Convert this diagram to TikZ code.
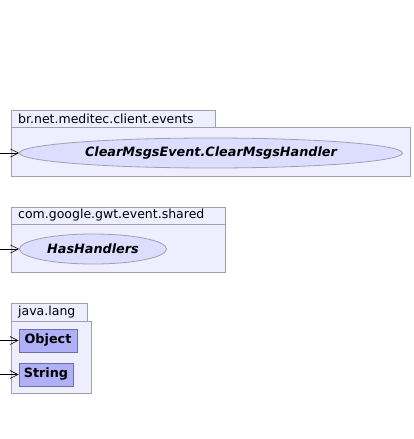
\documentclass[tikz,border=0pt]{standalone}
\usepackage{fontspec}
\setmainfont{DejaVu Sans}
\usetikzlibrary{shapes.geometric,arrows.meta}
\definecolor{pkgfill}{HTML}{EEEEFF}
\definecolor{pkgline}{HTML}{A0A0B0}
\definecolor{ellfill}{HTML}{DDDDFF}
\definecolor{boxfill}{HTML}{B0B0F8}
\definecolor{boxline}{HTML}{7070A0}
\tikzset{
  pkg/.style={draw=pkgline, fill=pkgfill, line width=0.8pt},
  pkglabel/.style={anchor=west, font=\fontsize{12.5}{14}\selectfont, inner sep=0pt},
  iface/.style={ellipse, draw=pkgline, fill=ellfill, line width=0.8pt, inner sep=0pt, font=\fontsize{12.8}{14}\selectfont\bfseries\itshape},
  cls/.style={rectangle, draw=boxline, fill=boxfill, line width=0.8pt, inner sep=0pt, font=\fontsize{12.8}{14}\selectfont\bfseries},
  dep/.style={-{Straight Barb[length=8pt,width=8pt]}, line width=0.6pt}
}
\begin{document}
\begin{tikzpicture}[x=1pt,y=-1pt]
\useasboundingbox (0,0) rectangle (413,439);
% package 1
\draw[pkg] (11,110) rectangle (215,127);
\draw[pkg] (11,127) rectangle (410,176);
\node[pkglabel] (p1) at (18,118.5) {br.net.meditec.client.events};
\node[iface, minimum width=383pt, minimum height=30pt] (e1) at (211,153) {ClearMsgsEvent.ClearMsgsHandler};
\coordinate (s1) at (0,153);
\draw[dep] (s1) -- (e1.west);
% package 2
\draw[pkg] (11,207) rectangle (225,224);
\draw[pkg] (11,224) rectangle (225,272);
\node[pkglabel] (p2) at (18,215.5) {com.google.gwt.event.shared};
\node[iface, minimum width=147pt, minimum height=30pt] (e2) at (93,249) {HasHandlers};
\coordinate (s2) at (0,249);
\draw[dep] (s2) -- (e2.west);
% package 3
\draw[pkg] (11,303) rectangle (87,321);
\draw[pkg] (11,321) rectangle (91,393);
\node[pkglabel] (p3) at (18,312) {java.lang};
\node[cls, minimum width=58pt, minimum height=23pt] (c1) at (48,340.5) {Object};
\node[cls, minimum width=54pt, minimum height=23pt] (c2) at (46,374.5) {String};
\coordinate (s3) at (0,340.5);
\coordinate (s4) at (0,374.5);
\draw[dep] (s3) -- (c1.west);
\draw[dep] (s4) -- (c2.west);
\end{tikzpicture}
\end{document}
